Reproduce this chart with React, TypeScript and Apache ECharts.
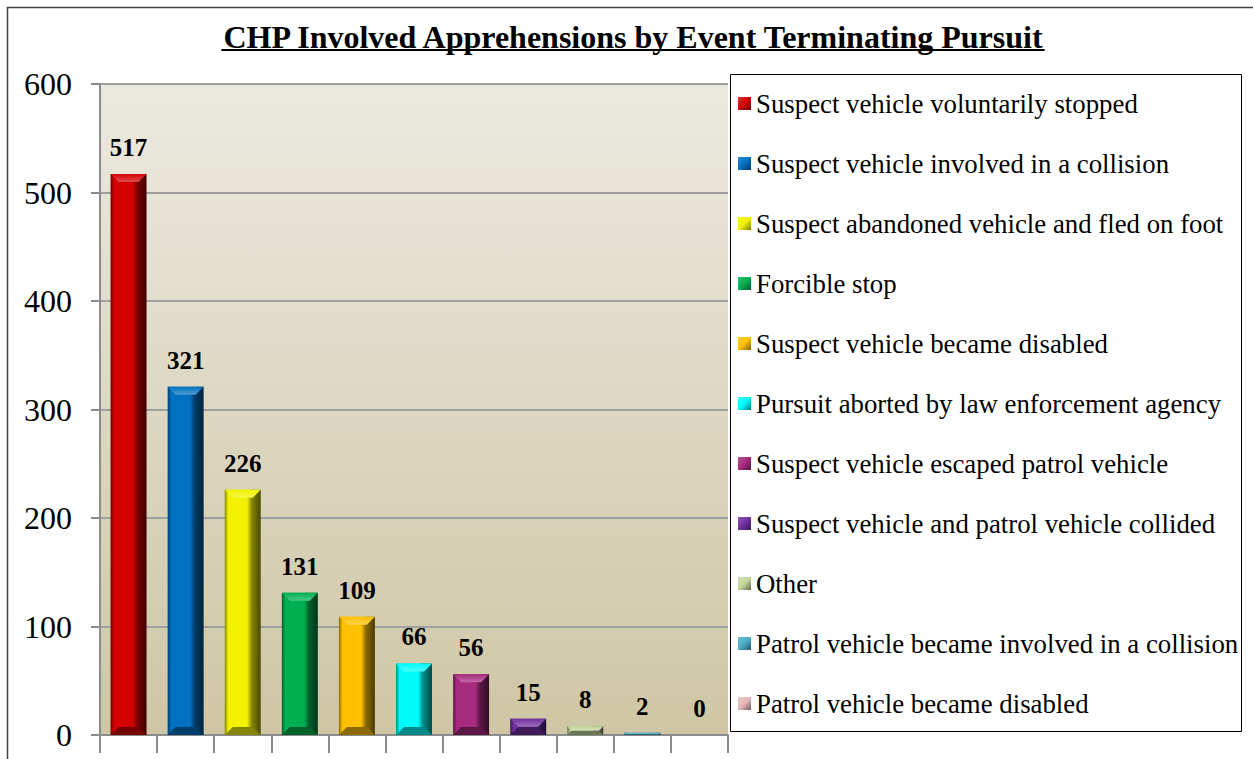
import React, { useEffect, useRef } from "react";
import * as echarts from "echarts";

const categories = [
  "Suspect vehicle voluntarily stopped",
  "Suspect vehicle involved in a collision",
  "Suspect abandoned vehicle and fled on foot",
  "Forcible stop",
  "Suspect vehicle became disabled",
  "Pursuit aborted by law enforcement agency",
  "Suspect vehicle escaped patrol vehicle",
  "Suspect vehicle and patrol vehicle collided",
  "Other",
  "Patrol vehicle became involved in a collision",
  "Patrol vehicle became disabled",
];
const values = [517, 321, 226, 131, 109, 66, 56, 15, 8, 2, 0];
const colors = [
  "#D40000", "#0070C0", "#F2F200", "#00B050", "#FFC000", "#00FAFA",
  "#A62A7E", "#7030A0", "#C3D69B", "#4BACC6", "#E6B9B8",
];
const yTicks = { min: 0, max: 600, interval: 100 };
const title = "CHP Involved Apprehensions by Event Terminating Pursuit";

const SERIF = '"Liberation Serif", "Times New Roman", serif';

function hexToRgb(h: string) {
  const n = parseInt(h.slice(1), 16);
  return [(n >> 16) & 255, (n >> 8) & 255, n & 255];
}
function mix(h: string, target: number, t: number) {
  const c = hexToRgb(h).map((v) => Math.round(v + (target - v) * t));
  return `rgb(${c[0]},${c[1]},${c[2]})`;
}
const shade = (h: string, t: number) => mix(h, 0, t);
const tint = (h: string, t: number) => mix(h, 255, t);

function measure(text: string, font: string) {
  const c = document.createElement("canvas").getContext("2d");
  if (!c) return text.length * 15;
  c.font = font;
  return c.measureText(text).width;
}

export default function App() {
  const ref = useRef<HTMLDivElement>(null);
  useEffect(() => {
    if (!ref.current) return;
    const chart = echarts.init(ref.current, undefined, { renderer: "svg" });
    const titleFont = `bold 32px ${SERIF}`;
    const tw = measure(title, titleFont);
    const titleX = 633;

    const series = categories.map((name, idx) => {
      const base = colors[idx];
      return {
        type: "custom",
        name,
        data: [[idx, values[idx]]],
        itemStyle: {
          color: new echarts.graphic.LinearGradient(0, 0, 1, 1, [
            { offset: 0, color: tint(base, 0.2) },
            { offset: 0.5, color: base },
            { offset: 1, color: shade(base, 0.5) },
          ]),
        },
        renderItem: (params: any, api: any) => {
          const i = api.value(0);
          const v = api.value(1);
          const top = api.coord([i, v]);
          const bot = api.coord([i, 0]);
          const w = api.size([1, 0])[0] * 0.63;
          const x0 = top[0] - w / 2;
          const x1 = top[0] + w / 2;
          const yt = top[1];
          const yb = bot[1];
          const h = yb - yt;
          const b = Math.min(8, h / 2);
          const children: any[] = [];
          if (h > 0) {
            children.push({
              type: "rect",
              shape: { x: x0, y: yt, width: w, height: h },
              style: {
                fill: new echarts.graphic.LinearGradient(0, 0, 1, 0, [
                  { offset: 0, color: shade(base, 0.45) },
                  { offset: 0.1, color: base },
                  { offset: 0.62, color: base },
                  { offset: 0.75, color: shade(base, 0.45) },
                  { offset: 1, color: shade(base, 0.7) },
                ]),
              },
            });
            children.push({
              type: "polygon",
              shape: {
                points: [
                  [x0, yt],
                  [x1, yt],
                  [x1 - b, yt + b],
                  [x0 + b, yt + b],
                ],
              },
              style: {
                fill: new echarts.graphic.LinearGradient(0, 0, 0, 1, [
                  { offset: 0, color: base },
                  { offset: 1, color: tint(base, 0.3) },
                ]),
              },
            });
            children.push({
              type: "polygon",
              shape: {
                points: [
                  [x0, yb],
                  [x1, yb],
                  [x1 - b, yb - b],
                  [x0 + b, yb - b],
                ],
              },
              style: { fill: shade(base, 0.45) },
            });
          }
          children.push({
            type: "text",
            style: {
              text: String(v),
              x: top[0],
              y: yt - 14,
              align: "center",
              verticalAlign: "bottom",
              fontSize: 25,
              fontWeight: "bold",
              fontFamily: SERIF,
              fill: "#000",
            },
          });
          return { type: "group", children };
        },
      };
    });

    chart.setOption({
      animation: false,
      backgroundColor: "#fff",
      grid: {
        left: 100,
        right: 525,
        top: 84,
        bottom: 24,
        show: true,
        borderWidth: 0,
        backgroundColor: new echarts.graphic.LinearGradient(0, 0, 0, 1, [
          { offset: 0, color: "#ECE9E0" },
          { offset: 1, color: "#CEC6A4" },
        ]),
      },
      xAxis: {
        type: "category",
        data: categories,
        axisLabel: { show: false, interval: 0 },
        axisLine: { show: true, lineStyle: { color: "#8C8C8C", width: 2 } },
        axisTick: {
          show: true,
          interval: 0,
          length: 18,
          lineStyle: { color: "#8C8C8C", width: 2 },
        },
        splitLine: { show: false },
      },
      yAxis: {
        type: "value",
        min: yTicks.min,
        max: yTicks.max,
        interval: yTicks.interval,
        axisLabel: {
          fontSize: 32,
          fontFamily: SERIF,
          color: "#000",
          margin: 28,
        },
        axisLine: { show: true, lineStyle: { color: "#8C8C8C", width: 2 } },
        axisTick: { show: true, length: 9, lineStyle: { color: "#8C8C8C", width: 2 } },
        splitLine: { show: true, lineStyle: { color: "#A0A0A0", width: 2 } },
      },
      legend: {
        orient: "vertical",
        left: 738,
        top: 90,
        padding: 0,
        itemWidth: 13,
        itemHeight: 13,
        itemGap: 33,
        icon: "rect",
        selectedMode: false,
        textStyle: {
          fontSize: 26.8,
          fontFamily: SERIF,
          color: "#000",
          lineHeight: 26.8,
        },
        z: 6,
      },
      graphic: [
        {
          type: "rect",
          z: 5,
          shape: { x: 730.5, y: 74.5, width: 511, height: 657 },
          style: { fill: "#fff", stroke: "#000", lineWidth: 1 },
        },
        {
          type: "rect",
          z: 5,
          shape: { x: 7.5, y: 7.5, width: 1400, height: 900 },
          style: { fill: "none", stroke: "#404040", lineWidth: 1.5 },
        },
        {
          type: "text",
          z: 5,
          style: {
            text: title,
            x: titleX,
            y: 21,
            align: "center",
            verticalAlign: "top",
            fontSize: 32,
            fontWeight: "bold",
            fontFamily: SERIF,
            fill: "#000",
          },
        },
        {
          type: "line",
          z: 5,
          shape: { x1: titleX - tw / 2, y1: 50, x2: titleX + tw / 2, y2: 50 },
          style: { stroke: "#000", lineWidth: 2 },
        },
      ],
      series,
    });
    return () => chart.dispose();
  }, []);
  return (
    <div
      ref={ref}
      style={{ position: "fixed", left: 0, top: 0, width: 1253, height: 759 }}
    />
  );
}
